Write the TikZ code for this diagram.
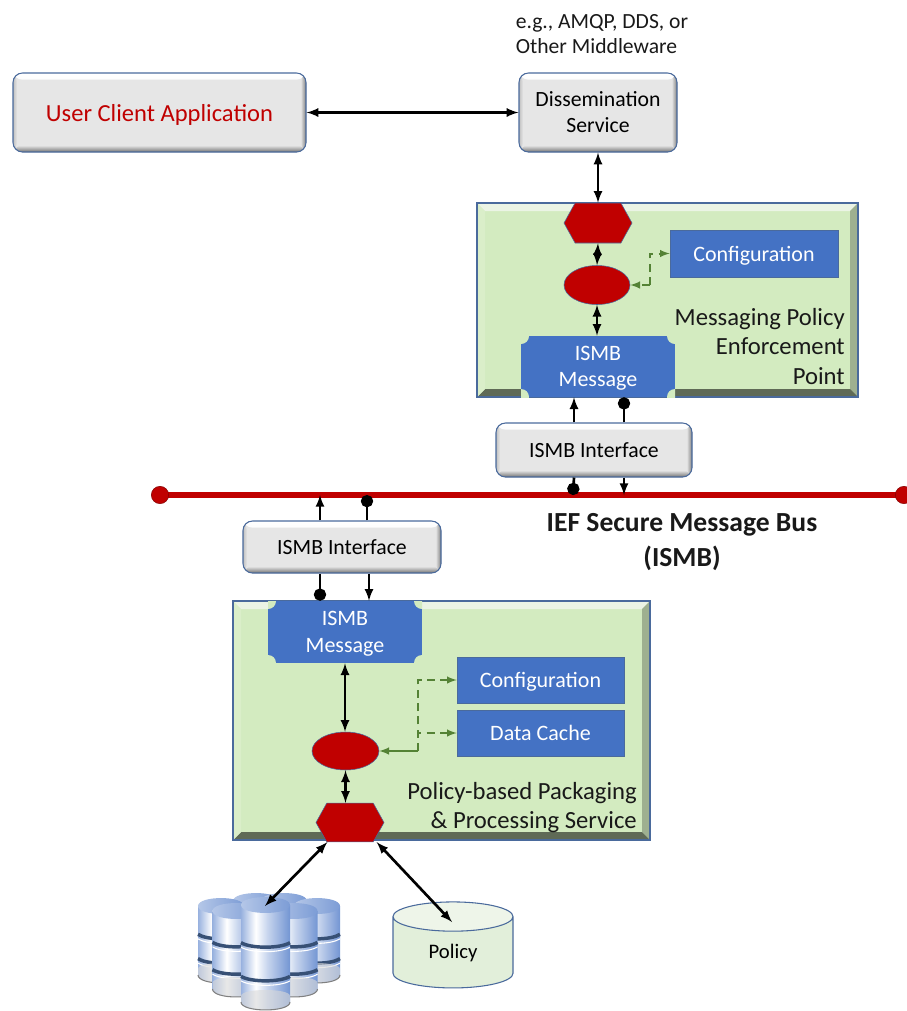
\documentclass[tikz,border=0pt]{standalone}
\usepackage{fontspec}
\setmainfont{Carlito}
\usepackage{tikz}
\usetikzlibrary{positioning,arrows,shapes,shapes.geometric,shapes.symbols}
\definecolor{boxgrey}{HTML}{E6E6E6}
\definecolor{boxgreen}{HTML}{D3EBC0}
\definecolor{boxblue}{HTML}{4472C4}
\definecolor{edgeblue}{HTML}{4A6A9C}
\definecolor{busred}{HTML}{C00000}
\definecolor{linkgreen}{HTML}{548235}
\definecolor{storegreen}{HTML}{E2EFDA}
\pgfdeclarehorizontalshading{dbshade}{100bp}{color(0bp)=(white!45!boxblue); color(25bp)=(white!45!boxblue); color(40bp)=(white); color(52bp)=(white!70!boxblue); color(75bp)=(white!25!boxblue); color(100bp)=(white!25!boxblue)}
% one barrel of the database stack: centre x, top y, width, height
\newcommand{\dbunit}[4]{
\pgfmathsetmacro\xl{#1-#3/2}
\pgfmathsetmacro\xr{#1+#3/2}
\pgfmathsetmacro\ya{#2+8}
\pgfmathsetmacro\yb{#2+#4-8}
\pgfmathsetmacro\yc{#2-2.6}
\pgfmathsetmacro\yd{#2+18.6}
\pgfmathsetmacro\ye{#2+#4+2.6}
\pgfmathsetmacro\yf{#2+#4/3+8}
\pgfmathsetmacro\yg{#2+2*#4/3+4}
\shade[shading=dbshade] (\xl,\ya) -- (\xl,\yb) .. controls (\xl,\ye) and (\xr,\ye) .. (\xr,\yb) -- (\xr,\ya) -- cycle;
\foreach \yt in {\yf,\yg} {
\draw[line width=2.6pt, color=edgeblue!75!black] (\xl,\yt) .. controls (\xl+.2*#3,\yt+6) and (\xr-.2*#3,\yt+6) .. (\xr,\yt);
\draw[line width=.8pt, color=white] (\xl,\yt+4.5) .. controls (\xl+.2*#3,\yt+10.5) and (\xr-.2*#3,\yt+10.5) .. (\xr,\yt+4.5);
}
\fill[color=gray!30, opacity=.6] (\xl,\yb-6) .. controls (\xl,\yb-14) and (\xr,\yb-14) .. (\xr,\yb-6) -- (\xr,\yb) .. controls (\xr,\ye) and (\xl,\ye) .. (\xl,\yb) -- cycle;
\draw[line width=.8pt, color=gray] (\xl,\yb) .. controls (\xl,\ye) and (\xr,\ye) .. (\xr,\yb);
\shade[left color=white!60!boxblue, right color=white!30!boxblue] (\xl,\ya) .. controls (\xl,\yc) and (\xr,\yc) .. (\xr,\ya) .. controls (\xr,\yd) and (\xl,\yd) .. (\xl,\ya) -- cycle;
}
\tikzset {
    style A/.style={
        fill=boxgrey,
        draw=edgeblue,
        line width=.8pt,
        rectangle, % Set the shape as a rectangle
        rounded corners=.25cm,
        align=center,
        font=\fontsize{16.3}{19.5}\selectfont,
        path picture={
            \shade[top color=white, bottom color=boxgrey] (path picture bounding box.north west) rectangle ([yshift=-5pt]path picture bounding box.north east);
            \shade[top color=boxgrey, bottom color=black!55] ([yshift=5pt]path picture bounding box.south west) rectangle (path picture bounding box.south east);
            \shade[left color=boxgrey, right color=black!50] ([xshift=-4pt]path picture bounding box.north east) rectangle (path picture bounding box.south east);
            \shade[left color=black!25, right color=boxgrey] (path picture bounding box.north west) rectangle ([xshift=3pt]path picture bounding box.south west);
        },
    },
    style B/.style={
        fill=boxgreen,
        draw=edgeblue,
        line width=.8pt,
        rectangle,
        path picture={
            \fill[color=storegreen!70!white] (path picture bounding box.north west) -- (path picture bounding box.north east) -- ([shift={(-6pt,-6pt)}]path picture bounding box.north east) -- ([shift={(6pt,-6pt)}]path picture bounding box.north west) -- cycle;
            \fill[color=boxgreen!75!black] (path picture bounding box.north east) -- (path picture bounding box.south east) -- ([shift={(-6pt,6pt)}]path picture bounding box.south east) -- ([shift={(-6pt,-6pt)}]path picture bounding box.north east) -- cycle;
            \fill[color=boxgreen!45!black] (path picture bounding box.south west) -- (path picture bounding box.south east) -- ([shift={(-6pt,6pt)}]path picture bounding box.south east) -- ([shift={(6pt,6pt)}]path picture bounding box.south west) -- cycle;
            \fill[color=boxgreen!85!white] (path picture bounding box.north west) -- (path picture bounding box.south west) -- ([shift={(6pt,6pt)}]path picture bounding box.south west) -- ([shift={(6pt,-6pt)}]path picture bounding box.north west) -- cycle;
        },
    },
    style C/.style={
        fill=boxblue,
        draw=edgeblue,
        rectangle,
        align=center,
        text=white,
        text depth=0pt,
        font=\fontsize{16.5}{20}\selectfont,
    },
    style D/.style={
        style C,
        draw=none,
        path picture={
            \foreach \corner in {north west,north east,south west,south east} {
                \fill[color=boxgreen] (path picture bounding box.\corner) circle (6pt);
            }
        },
    },
    style E/.style={
        fill=busred,
        draw=edgeblue,
        ellipse,
        inner sep=0pt,
    },
    style F/.style={
        fill=busred,
        draw=edgeblue,
        signal,
        signal to=west and east,
        signal pointer angle=122,
        inner sep=0pt,
    },
    style T/.style={
        align=right,
        inner sep=0pt,
        color=black!90,
        font=\fontsize{18.5}{22}\selectfont,
    },
    link/.style={line width=2pt, >=latex},
    cfglink/.style={line width=1.5pt, color=linkgreen, >=latex},
    cfgdash/.style={cfglink, dash pattern=on 6pt off 4pt},
}
\begin{document}
\begin{tikzpicture}
[x=.75pt, y=-.75pt]
\useasboundingbox (0,0) rectangle (907,1011);

% bus
\coordinate (busL) at (160,495);
\coordinate (busR) at (904,495);
\draw[line width=4pt, color=busred] (busL) -- (busR);
\node[circle, fill=busred, draw=busred!70!black, inner sep=0pt, minimum size=13pt] at (busL) (ballL) {};
\node[circle, fill=busred, draw=busred!70!black, inner sep=0pt, minimum size=13pt] at (busR) (ballR) {};

\node[style A, minimum width=219.75pt, minimum height=59.25pt, text=busred, text depth=0pt, font=\fontsize{18.4}{20}\selectfont] at (159.5,112.5) (userApp) {User Client Application};
\node[style A, minimum width=118.5pt, minimum height=59.25pt] at (598,112.5) (dissem) {Dissemination\\Service};
\node[align=left, inner sep=0pt, font=\fontsize{16.2}{18.75}\selectfont, color=black!90] at (602,34) (midText) {e.g., AMQP, DDS, or\\Other Middleware};

\node[style B, minimum width=285.75pt, minimum height=145.5pt] at (667.5,300) (mpep) {};
\node[style F, minimum width=51pt, minimum height=30pt] at (598,223) (gateA) {};
\node[style E, minimum width=49.5pt, minimum height=29.25pt] at (597,285) (coreA) {};
\node[style C, minimum width=126pt, minimum height=35.25pt] at (754,253.5) (cfgA) {Configuration};
\node[style D, minimum width=115.5pt, minimum height=45.75pt] at (598,366.5) (msgA) {ISMB\\Message};
\node[style T, anchor=north east] at (845,308) (mpepText) {Messaging Policy\\Enforcement\\Point};
\node[style A, minimum width=147pt, minimum height=40.5pt] at (594,450) (ifaceA) {ISMB Interface};

\node[style T, align=center, font=\fontsize{20.7}{26}\bfseries\selectfont] at (682,542) (busText) {IEF Secure Message Bus\\(ISMB)};
\node[style A, minimum width=148.5pt, minimum height=39pt] at (342,547) (ifaceB) {ISMB Interface};

\node[style B, minimum width=312.75pt, minimum height=179.25pt] at (441.5,720.5) (pps) {};
\node[style D, minimum width=115.5pt, minimum height=46.5pt] at (345,632) (msgB) {ISMB\\Message};
\node[style C, minimum width=125.25pt, minimum height=34.5pt] at (540.5,680) (cfgB) {Configuration};
\node[style C, minimum width=125.25pt, minimum height=34.5pt] at (540.5,733) (cacheB) {Data Cache};
\node[style E, minimum width=50.25pt, minimum height=28.5pt] at (345.5,751) (coreB) {};
\node[style F, minimum width=51pt, minimum height=29pt] at (350,822.5) (gateB) {};
\node[style T, anchor=south east] at (637,833) (ppsText) {Policy-based Packaging\\\& Processing Service};

\node[cylinder, shape border rotate=90, aspect=.6, draw=edgeblue, line width=.8pt, inner sep=0pt, cylinder uses custom fill, cylinder body fill=storegreen, cylinder end fill=storegreen!60!white, minimum width=90pt, minimum height=64.5pt, font=\fontsize{15.5}{17}\selectfont] at (453,952.5) (policy) {Policy};

% database stack
\foreach \cx/\ctop/\cw/\ch in {256/893/46/75, 284/893/46/75, 221/898/46/85, 317/898/46/85, 236/903/47/94, 294/903/47/94, 265.5/897/49/113} {
\dbunit{\cx}{\ctop}{\cw}{\ch}
}
\coordinate (dbStore) at (265,906);

\draw[link, <->] (userApp) -- (dissem);
\draw[link, <->] (dissem.south) -- (gateA.north);
\draw[link, <->] (gateA.south) -- (coreA.north);
\draw[link, <->] (coreA.south) -- (coreA.south |- msgA.north);
\draw[link, ->] ([xshift=-15pt]ifaceA.north) -- ([xshift=-18pt]msgA.south);
\draw[link, -*] ([xshift=22.5pt]ifaceA.north) -- ([xshift=19.5pt]msgA.south);
\draw[link, -*] ([xshift=-15pt]ifaceA.south) -- (573,495);
\draw[link, ->] ([xshift=22.5pt]ifaceA.south) -- (624,495);
\draw[link, ->] ([xshift=-16.5pt]ifaceB.north) -- (320,495);
\draw[link, -*] ([xshift=18.75pt]ifaceB.north) -- (367,495);
\draw[link, -*] ([xshift=-16.5pt]ifaceB.south) -- ([xshift=-18.75pt]msgB.north);
\draw[link, ->] ([xshift=20.25pt]ifaceB.south) -- ([xshift=18pt]msgB.north);
\draw[link, <->] (msgB.south) -- (msgB.south |- coreB.north);
\draw[link, <->] (coreB.south) -- (coreB.south |- gateB.north);
\draw[link, <->] ([xshift=-17pt]gateB.south) -- (dbStore);
\draw[link, <->] ([xshift=20pt]gateB.south) -- (452,922);

\coordinate (tapA) at (650,285);
\draw[cfgdash, ->] (tapA) -- (coreA.east);
\draw[cfgdash, ->] (tapA) |- (cfgA.west);
\coordinate (tapB) at (418,751);
\draw[cfglink, ->] (tapB) -- (coreB.east);
\draw[cfgdash, ->] (tapB) |- (cfgB.west);
\draw[cfgdash, ->] (tapB) |- (cacheB.west);
\end{tikzpicture}
\end{document}
